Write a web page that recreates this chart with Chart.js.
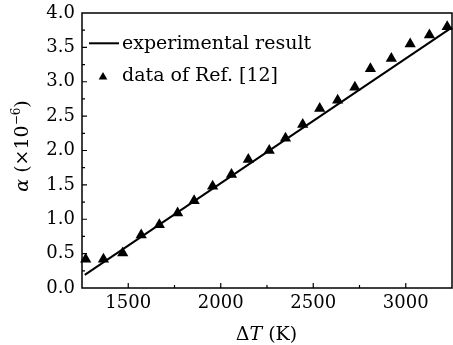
<!DOCTYPE html>
<html><head><meta charset="utf-8">
<script src="https://cdn.jsdelivr.net/npm/chart.js@4.4.0/dist/chart.umd.min.js"></script>
<style>html,body{margin:0;padding:0;background:#fff;overflow:hidden}#wrap{width:453px;height:345px}</style>
</head><body><div id="wrap"><canvas id="c" width="453" height="345"></canvas></div>
<script>
// ---- data ----
const refX = [1270, 1366, 1470, 1570, 1668, 1767, 1856, 1956, 2058, 2149, 2262, 2350, 2443, 2535, 2632, 2725, 2809, 2922, 3024, 3128, 3224];
const refY = [0.42, 0.42, 0.51, 0.77, 0.92, 1.09, 1.27, 1.48, 1.65, 1.87, 2.00, 2.18, 2.38, 2.61, 2.73, 2.92, 3.19, 3.34, 3.55, 3.68, 3.80];
const expX = [1265, 3250];
const expY = [0.19, 3.79];
const xTickLabels = ['1500', '2000', '2500', '3000'];
const yTickLabels = ['0.0', '0.5', '1.0', '1.5', '2.0', '2.5', '3.0', '3.5', '4.0'];
const seriesLabels = ['experimental result', 'data of Ref. [12]'];

const FONT = '"DejaVu Serif", "Liberation Serif", serif';

const decor = {
  id: 'decor',
  afterDraw(chart) {
    const ctx = chart.ctx, a = chart.chartArea;
    const xs = chart.scales.x, ys = chart.scales.y;
    ctx.save();
    ctx.strokeStyle = '#000';
    ctx.lineWidth = 1.5;
    ctx.strokeRect(a.left, a.top, a.right - a.left, a.bottom - a.top);
    ctx.lineWidth = 1.2;
    ctx.beginPath();
    xs.ticks.forEach(t => {
      const p = xs.getPixelForValue(t.value);
      if (p <= a.left + 1 || p >= a.right - 1) return;
      const major = xTickLabels.includes(String(t.value));
      ctx.moveTo(p, a.bottom);
      ctx.lineTo(p, a.bottom - (major ? 5 : 3));
    });
    ys.ticks.forEach(t => {
      const p = ys.getPixelForValue(t.value);
      if (p <= a.top + 1 || p >= a.bottom - 1) return;
      const major = Math.abs(t.value * 2 - Math.round(t.value * 2)) < 1e-6;
      ctx.moveTo(a.left, p);
      ctx.lineTo(a.left + (major ? 5 : 3), p);
    });
    ctx.stroke();

    // legend
    const ds = chart.data.datasets;
    ctx.fillStyle = '#000';
    ctx.font = '19px ' + FONT;
    ctx.textBaseline = 'alphabetic';
    ctx.textAlign = 'left';
    ctx.lineWidth = 2;
    ctx.beginPath();
    ctx.moveTo(89, 43.3); ctx.lineTo(119, 43.3);
    ctx.stroke();
    ctx.fillText(ds[0].label, 122, 48.5);
    const r = 5, cx = 103, cy = 77;
    ctx.beginPath();
    for (let i = 0; i < 3; i++) {
      const ang = i * 2 * Math.PI / 3;
      const px = cx + Math.sin(ang) * r, py = cy - Math.cos(ang) * r;
      if (i === 0) ctx.moveTo(px, py); else ctx.lineTo(px, py);
    }
    ctx.closePath(); ctx.fill();
    ctx.fillText(ds[1].label, 122, 80.5);

    // axis titles
    function drawSegs(segs, x, y) {
      let w = 0;
      segs.forEach(s => { ctx.font = s.f; w += ctx.measureText(s.t).width; });
      let cur = x - w / 2;
      segs.forEach(s => {
        ctx.font = s.f;
        ctx.fillText(s.t, cur, y + (s.dy || 0));
        cur += ctx.measureText(s.t).width;
      });
    }
    drawSegs([
      { t: 'Δ', f: '19px ' + FONT },
      { t: 'T', f: 'italic 19px ' + FONT },
      { t: ' (K)', f: '19px ' + FONT }
    ], 266.5, 340);
    ctx.save();
    ctx.translate(28, 146);
    ctx.rotate(-Math.PI / 2);
    drawSegs([
      { t: 'α', f: 'italic 19px ' + FONT },
      { t: ' (×10', f: '19px ' + FONT },
      { t: '−6', f: '12px ' + FONT, dy: -8 },
      { t: ')', f: '19px ' + FONT }
    ], 0, 0);
    ctx.restore();
    ctx.restore();
  }
};

new Chart(document.getElementById('c'), {
  type: 'scatter',
  data: {
    datasets: [
      {
        type: 'line',
        label: seriesLabels[0],
        data: expX.map((x, i) => ({ x, y: expY[i] })),
        borderColor: '#000',
        borderWidth: 2,
        pointRadius: 0,
        fill: false,
        clip: false
      },
      {
        label: seriesLabels[1],
        data: refX.map((x, i) => ({ x, y: refY[i] })),
        pointStyle: 'triangle',
        pointRadius: 6.5,
        backgroundColor: '#000',
        borderColor: '#000',
        borderWidth: 0,
        showLine: false,
        clip: false
      }
    ]
  },
  options: {
    responsive: false,
    animation: false,
    devicePixelRatio: 1,
    layout: { autoPadding: false, padding: { left: 0, top: 13, right: 1, bottom: 0 } },
    plugins: { legend: { display: false }, tooltip: { enabled: false } },
    scales: {
      x: {
        type: 'linear', min: 1250, max: 3250,
        grid: { display: false, drawTicks: false },
        border: { display: false },
        ticks: {
          stepSize: 250, autoSkip: false, maxRotation: 0, padding: 5,
          color: '#000', font: { family: FONT, size: 18 },
          callback: v => xTickLabels.includes(String(v)) ? String(v) : ''
        },
        afterFit(s) { s.height = 57; s.paddingLeft = 0; s.paddingRight = 0; }
      },
      y: {
        type: 'linear', min: 0, max: 4,
        grid: { display: false, drawTicks: false },
        border: { display: false },
        ticks: {
          stepSize: 0.25, autoSkip: false, padding: 7,
          color: '#000', font: { family: FONT, size: 18 },
          callback: v => {
            const s = Number(v).toFixed(1);
            return (Math.abs(v * 2 - Math.round(v * 2)) < 1e-6 && yTickLabels.includes(s)) ? s : '';
          }
        },
        afterFit(s) { s.width = 82; s.paddingTop = 0; s.paddingBottom = 0; }
      }
    }
  },
  plugins: [decor]
});
</script>
</body></html>
